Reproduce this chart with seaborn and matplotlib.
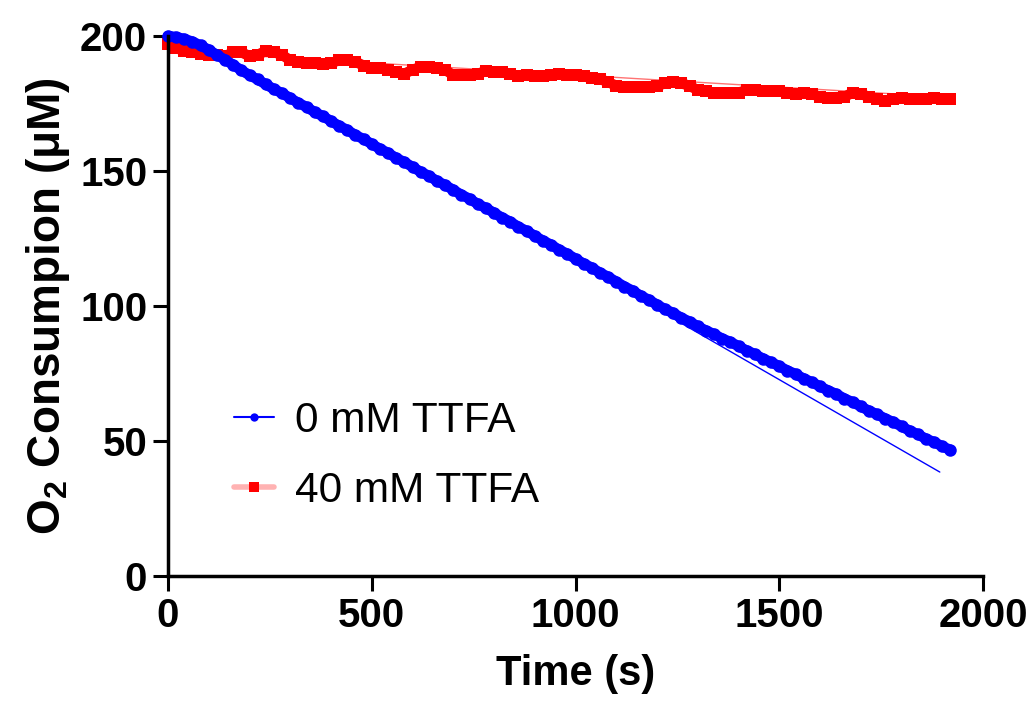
import numpy as np
import pandas as pd
import matplotlib
matplotlib.use("Agg")
import matplotlib.pyplot as plt
from matplotlib.lines import Line2D
import seaborn as sns

# Oxygen trace sampled every 20 s
time_s = list(range(0, 1921, 20))

o2_0mM = [
    200.0, 199.6, 198.9, 197.9, 196.5, 194.9, 193.0, 191.2, 189.3, 187.3,
    185.5, 183.9, 182.1, 180.3, 178.8, 177.0, 175.2, 173.7, 171.8, 170.3,
    168.5, 166.7, 165.2, 163.3, 161.8, 160.0, 158.2, 156.7, 154.8, 153.3,
    151.5, 149.7, 148.2, 146.3, 144.8, 143.0, 141.2, 139.7, 137.8, 136.3,
    134.5, 132.7, 131.2, 129.3, 127.8, 126.0, 124.2, 122.7, 120.8, 119.3,
    117.5, 115.7, 114.2, 112.3, 110.8, 109.0, 107.2, 105.7, 103.8, 102.3,
    100.5, 98.8, 97.4, 95.6, 94.2, 92.5, 90.9, 89.6, 87.9, 86.7,
    85.1, 83.5, 82.2, 80.5, 79.2, 77.7, 76.1, 74.8, 73.1, 71.8,
    70.2, 68.7, 67.4, 65.7, 64.4, 62.8, 61.2, 59.9, 58.3, 57.0,
    55.4, 53.8, 52.5, 50.8, 49.6, 48.0, 46.7,
]

o2_40mM = [
    197, 195.5, 194.5, 194, 193.5, 193, 193, 192.5, 194, 194,
    192.5, 193, 194.5, 194, 193, 191, 190.5, 190, 190, 189.5,
    190, 191, 191, 190.5, 189, 188, 188, 187.5, 186.5, 186,
    187.5, 188.5, 188.5, 188, 187.5, 185.5, 185.5, 185.5, 186, 187,
    186.5, 186.5, 186, 185, 185.5, 185, 185, 185.5, 186, 185.5,
    185.5, 185, 184.5, 184, 183, 181.5, 181, 181, 181, 181,
    181.5, 182.5, 183, 182.5, 181.5, 180, 179.5, 179, 179, 179,
    179, 180, 180, 179.5, 179.5, 179.5, 179, 178.5, 179, 178.5,
    177.5, 177, 177, 177.5, 179, 178.5, 177.5, 176.5, 176, 176.5,
    177, 176.5, 176.5, 176.5, 177, 176.5, 176.5,
]

# Linear fit lines (start/end)
fit_time_0mM = [110, 1894]
fit_o2_0mM = [193.5, 38.5]
fit_time_40mM = [0, 1900]
fit_o2_40mM = [194.5, 177.5]

labels = ["0 mM TTFA", "40 mM TTFA"]
x_ticks = [0, 500, 1000, 1500, 2000]
y_ticks = [0, 50, 100, 150, 200]

sns.set_theme(style="ticks")
plt.rcParams["font.family"] = ["Liberation Sans", "DejaVu Sans"]
plt.rcParams["mathtext.fontset"] = "custom"
plt.rcParams["mathtext.rm"] = "Liberation Sans"
plt.rcParams["mathtext.bf"] = "Liberation Sans:bold"
plt.rcParams["mathtext.default"] = "bf"
for key in ["text.color", "axes.labelcolor", "xtick.color", "ytick.color",
            "axes.edgecolor"]:
    plt.rcParams[key] = "black"

fig = plt.figure(figsize=(10.29, 7.06), dpi=100)
ax = fig.add_axes([168 / 1029, 1 - 576 / 706, 815 / 1029, 540 / 706])

df_red = pd.DataFrame({"t": time_s, "o2": o2_40mM})
df_blue = pd.DataFrame({"t": time_s, "o2": o2_0mM})

# fit lines sit underneath the data traces
sns.lineplot(x=fit_time_40mM, y=fit_o2_40mM, ax=ax, color=(1, 0.45, 0.45),
             lw=1.0, estimator=None)
sns.lineplot(data=df_red, x="t", y="o2", ax=ax, color="red", lw=7.5,
             marker="s", markersize=8.5, markeredgewidth=0, clip_on=False,
             estimator=None, sort=False, solid_capstyle="butt")
sns.lineplot(x=fit_time_0mM, y=fit_o2_0mM, ax=ax, color="blue",
             lw=1.0, estimator=None)
sns.lineplot(data=df_blue, x="t", y="o2", ax=ax, color="blue", lw=7.5,
             marker="o", markersize=9, markeredgewidth=0, clip_on=False,
             estimator=None, sort=False)

ax.set_xlim(0, 2000)
ax.set_ylim(0, 200)
ax.set_xticks(x_ticks)
ax.set_yticks(y_ticks)
ax.set_xticklabels([str(v) for v in x_ticks], fontsize=29, fontweight="bold")
ax.set_yticklabels([str(v) for v in y_ticks], fontsize=29, fontweight="bold")
ax.tick_params(axis="both", which="major", length=11, width=2.2,
               direction="out", color="black", pad=4)

for side in ["top", "right"]:
    ax.spines[side].set_visible(False)
for side in ["left", "bottom"]:
    ax.spines[side].set_linewidth(2.5)
    ax.spines[side].set_color("black")

ax.set_xlabel("Time (s)", fontsize=30, fontweight="bold", labelpad=14)
ax.set_ylabel("O$_2$ Consumpion (μM)", fontsize=33, fontweight="bold",
              labelpad=6)

handles = [
    Line2D([0], [0], color="blue", lw=1.5, marker="o", markersize=6,
           markerfacecolor="blue", markeredgewidth=0),
    Line2D([0], [0], color=(1, 0, 0, 0.3), lw=4, marker="s", markersize=6.5,
           markerfacecolor="red", markeredgewidth=0),
]
ax.legend(handles, labels, loc="upper left",
          bbox_to_anchor=(234 / 1029, 1 - 401 / 706),
          bbox_transform=fig.transFigure, frameon=False, fontsize=30.5,
          handlelength=0.95, handletextpad=0.5, labelspacing=0.7,
          borderpad=0, borderaxespad=0)

fig.savefig("out.png", dpi=100, facecolor="white")
